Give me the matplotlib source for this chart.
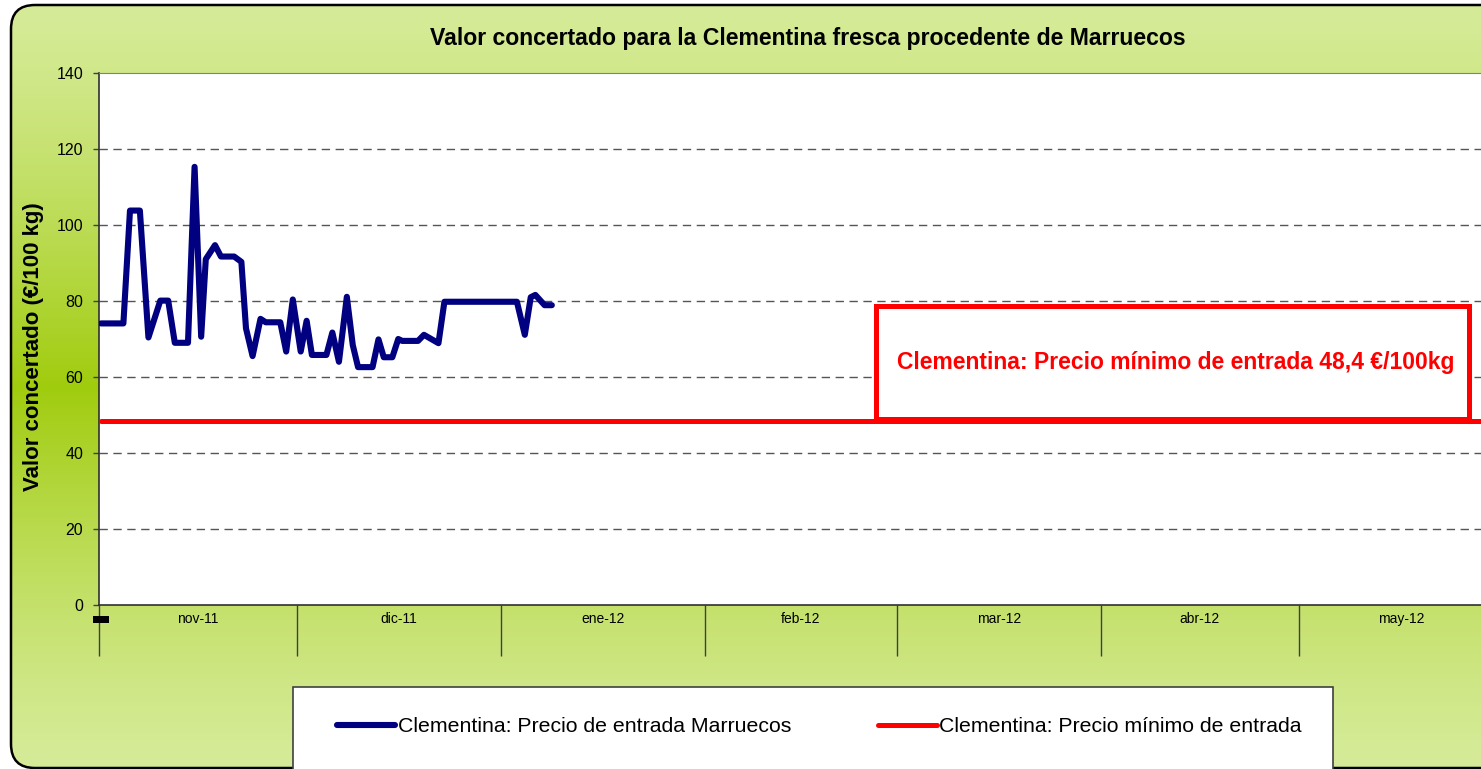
import numpy as np
import matplotlib
matplotlib.use("Agg")
import matplotlib.pyplot as plt
from matplotlib.patches import FancyBboxPatch, Rectangle
import datetime as dt

plt.rcParams['font.family'] = ['Liberation Sans', 'DejaVu Sans']

# ---------------- data ----------------
title = "Valor concertado para la Clementina fresca procedente de Marruecos"
ylabel = "Valor concertado (€/100 kg)"
series_blue_name = "Clementina: Precio de entrada Marruecos"
series_red_name = "Clementina: Precio mínimo de entrada"
box_text = "Clementina: Precio mínimo de entrada 48,4 €/100kg"

start_date = dt.date(2011, 11, 1)
month_starts = [dt.date(2011, 11, 1), dt.date(2011, 12, 1), dt.date(2012, 1, 1),
                dt.date(2012, 2, 1), dt.date(2012, 3, 1), dt.date(2012, 4, 1),
                dt.date(2012, 5, 1), dt.date(2012, 6, 1)]
month_labels = ["nov-11", "dic-11", "ene-12", "feb-12", "mar-12", "abr-12", "may-12"]

# days after 1 Nov 2011
blue_days = [0.3, 3.7, 4.7, 6.2, 7.5, 9.3, 10.5, 11.5, 13.5, 14.5, 15.5, 16.2,
             17.6, 18.5, 20.5, 21.6, 22.3, 23.3, 24.5, 25.3, 27.5, 28.4, 29.4,
             30.6, 31.5, 32.3, 34.5, 35.4, 36.4, 37.6, 38.5, 39.3, 41.5, 42.4,
             43.2, 44.5, 45.4, 46.0, 48.4, 49.3, 51.5, 52.4, 63.4, 64.6, 65.5,
             66.2, 67.6, 68.7]
blue_vals = [74.1, 74.1, 103.8, 103.8, 70.4, 80.1, 80.1, 69.0, 69.0, 115.3, 70.6,
             91.0, 94.7, 91.7, 91.7, 90.3, 72.8, 65.5, 75.3, 74.4, 74.4, 66.7,
             80.4, 66.7, 74.8, 65.8, 65.8, 71.7, 64.0, 81.1, 68.4, 62.6, 62.6,
             69.9, 65.2, 65.2, 70.0, 69.5, 69.5, 71.1, 68.9, 79.8, 79.8, 71.1,
             81.0, 81.6, 78.9, 78.9]
red_days = [0.3, 213.0]
red_vals = [48.4, 48.4]

yticks = [0, 20, 40, 60, 80, 100, 120, 140]

# ---------------- figure ----------------
W, H = 1481, 769
fig = plt.figure(figsize=(W / 100, H / 100), dpi=100)
fig.patch.set_facecolor("white")

# background with rounded frame and vertical gradient
bg = fig.add_axes([0, 0, 1, 1], zorder=-10)
bg.set_xlim(0, W)
bg.set_ylim(H, 0)
bg.axis("off")
light = np.array([214, 235, 152]) / 255.0
dark = np.array([160, 204, 14]) / 255.0
yy = np.linspace(0, 1, 400)
t = 1 - np.abs(yy - 0.5) * 2
t = t ** 1.3
grad = light[None, :] * (1 - t[:, None]) + dark[None, :] * t[:, None]
grad = np.repeat(grad[:, None, :], 2, axis=1)
frame = FancyBboxPatch((11, 5), 1560, 763, boxstyle="round,pad=0,rounding_size=24",
                       facecolor="none", edgecolor="black", linewidth=1.8, zorder=3)
bg.add_patch(frame)
im = bg.imshow(grad, extent=(11, 1571, 768, 5), aspect="auto", zorder=1,
               interpolation="bilinear")
im.set_clip_path(frame)

# legend box
bg.add_patch(Rectangle((293, 687), 1040, 120, facecolor="white",
                       edgecolor="#404040", linewidth=1.2, zorder=4))

# ---------------- main axes ----------------
x0, x1 = 99, 1503
y0, y1 = 73, 605
ax = fig.add_axes([x0 / W, 1 - y1 / H, (x1 - x0) / W, (y1 - y0) / H])
ax.set_facecolor("white")

ms = [(d - start_date).days for d in month_starts]
ax.set_xlim(ms[0], ms[-1])
ax.set_ylim(0, 140)

lb, = ax.plot(blue_days, blue_vals, color="#000080", linewidth=4.4,
              solid_joinstyle="round", solid_capstyle="round", zorder=4,
              label=series_blue_name)
lr, = ax.plot(red_days, red_vals, color="#ff0000", linewidth=3.6,
              solid_capstyle="round", zorder=3, label=series_red_name)

ax.set_yticks(yticks)
ax.set_yticklabels([str(v) for v in yticks], fontsize=11.5)
ax.tick_params(axis="y", length=4.5, width=1, color="#404040", pad=7)
for v in yticks[1:-1]:
    ax.axhline(v, color="#555555", linewidth=1, linestyle=(0, (6, 4)), zorder=1)

ax.set_xticks(ms)
ax.set_xticklabels([])
ax.tick_params(axis="x", which="major", length=37, width=1, color="#404040")
centers = [(ms[i] + ms[i + 1]) / 2 for i in range(len(ms) - 1)]
ax.set_xticks(centers, minor=True)
ax.set_xticklabels(month_labels, minor=True, fontsize=10)
ax.tick_params(axis="x", which="minor", length=0, pad=5)

ax.spines["right"].set_visible(False)
ax.spines["top"].set_color("#808080")
ax.spines["left"].set_color("#303030")
ax.spines["bottom"].set_color("#303030")
ax.spines["left"].set_linewidth(1.2)
ax.spines["bottom"].set_linewidth(1.2)

ax.set_ylabel(ylabel, fontsize=16, fontweight="bold")
ax.yaxis.set_label_coords(-(99 - 44) / (x1 - x0), (605 - 347) / (y1 - y0))

# small black marker below the axis origin
ax.add_patch(Rectangle((93, 616), 16, 7, facecolor="black", edgecolor="none",
                       transform=bg.transData, clip_on=False, zorder=8))

# title
fig.text(808 / W, 1 - 38 / H, title, ha="center", va="center",
         fontsize=16.6, fontweight="bold")

# red annotation box
ax.add_patch(Rectangle((875.5, 305.5), 593, 113, facecolor="white",
                       edgecolor="#ff0000", linewidth=3.6, zorder=6,
                       transform=bg.transData, clip_on=False))
ax.text(1175.5, 363, box_text, ha="center", va="center",
        fontsize=16.5, fontweight="bold", color="#ff0000", zorder=10,
        transform=bg.transData)

# legend
fig.legend(handles=[lb, lr], labels=[series_blue_name, series_red_name],
           loc="center left", bbox_to_anchor=(337 / W, 1 - 727 / H), ncol=2,
           frameon=False, fontsize=15.3, handlelength=2.75, handletextpad=0.1,
           columnspacing=4.1, borderpad=0, borderaxespad=0)

fig.savefig("out.png", dpi=100)
